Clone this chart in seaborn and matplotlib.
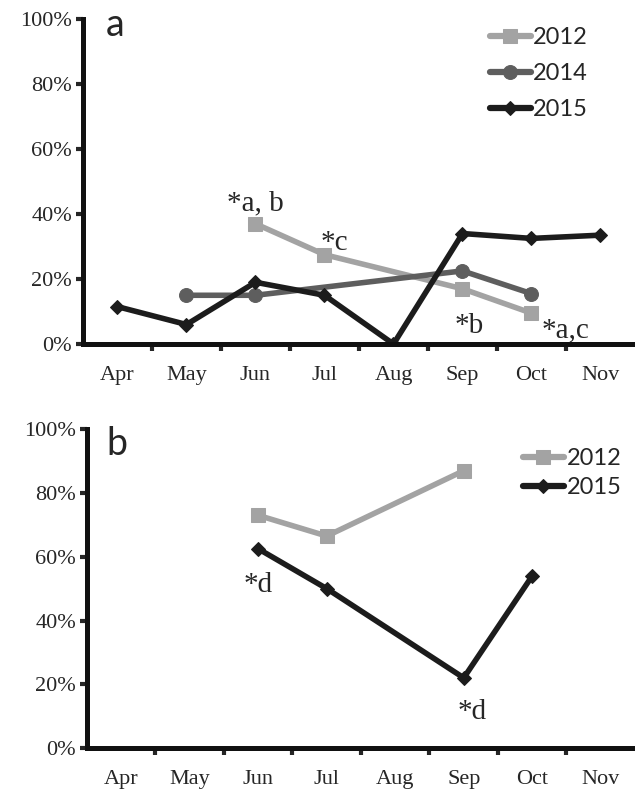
import matplotlib
matplotlib.use("Agg")
import matplotlib.pyplot as plt
import seaborn as sns
import pandas as pd

# months on the x axis
months = ['Apr', 'May', 'Jun', 'Jul', 'Aug', 'Sep', 'Oct', 'Nov']

# panel a values (%)
a_2012_months = ['Jun', 'Jul', 'Sep', 'Oct']
a_2012_vals = [37, 27.5, 17, 9.5]
a_2014_months = ['May', 'Jun', 'Sep', 'Oct']
a_2014_vals = [15, 15, 22.5, 15.5]
a_2015_months = ['Apr', 'May', 'Jun', 'Jul', 'Aug', 'Sep', 'Oct', 'Nov']
a_2015_vals = [11.5, 6, 19, 15, 0, 34, 32.5, 33.5]

# panel b values (%)
b_2012_months = ['Jun', 'Jul', 'Sep']
b_2012_vals = [73, 66.5, 87]
b_2015_months = ['Jun', 'Jul', 'Sep', 'Oct']
b_2015_vals = [62.5, 50, 22, 54]

# significance labels: (text, x, y of baseline)
a_notes = [('*a, b', 2.0, 41), ('*c', 3.15, 29), ('*b', 5.1, 3.4), ('*a,c', 6.5, 2.2)]
b_notes = [('*d', 2.0, 49), ('*d', 5.12, 9)]

colors = {'2012': '#a3a3a3', '2014': '#5e5e5e', '2015': '#1c1c1c'}
markers = {'2012': 's', '2014': 'o', '2015': 'D'}
msizes = {'2012': 10, '2014': 10, '2015': 7}


def make_df(series):
    rows = []
    for year, mlist, vals in series:
        for m, v in zip(mlist, vals):
            rows.append({'year': year, 'x': months.index(m), 'val': v})
    return pd.DataFrame(rows)


sns.set_style("ticks")
serif = ['Liberation Serif', 'DejaVu Serif']
sans = ['Lato', 'DejaVu Sans']

fig = plt.figure(figsize=(6.35, 7.96), dpi=100)
ax_a = fig.add_axes([0.1307, 0.5678, 0.8693, 0.4083])
ax_b = fig.add_axes([0.137, 0.0603, 0.863, 0.4004])

# (axes, letter, letter pos, data, notes, legend anchor, label spacing)
panels = [
    (ax_a, 'a', (0.042, 0.948),
     make_df([('2012', a_2012_months, a_2012_vals),
              ('2014', a_2014_months, a_2014_vals),
              ('2015', a_2015_months, a_2015_vals)]),
     a_notes, (0.915, 0.975), 0.63),
    (ax_b, 'b', (0.036, 0.918),
     make_df([('2012', b_2012_months, b_2012_vals),
              ('2015', b_2015_months, b_2015_vals)]),
     b_notes, (0.975, 0.94), 0.32),
]

for ax, letter, lpos, df, notes, anchor, lspace in panels:
    for year, sub in df.groupby('year'):
        sns.lineplot(data=sub, x='x', y='val', ax=ax, color=colors[year],
                     marker=markers[year], markersize=msizes[year],
                     markeredgecolor=colors[year], linewidth=4, label=year)
    ax.set_xlim(-0.5, 7.5)
    ax.set_ylim(0, 100)
    ax.set_xticks(range(len(months)))
    ax.set_xticklabels(months, fontfamily=serif, fontsize=16)
    ax.set_xticks([i + 0.5 for i in range(7)], minor=True)
    ax.tick_params(axis='x', which='major', length=0, pad=16)
    ax.tick_params(axis='x', which='minor', length=5, width=3, direction='out')
    ax.set_yticks([0, 20, 40, 60, 80, 100])
    ax.set_yticklabels(['%d%%' % v for v in [0, 20, 40, 60, 80, 100]],
                       fontfamily=serif, fontsize=16)
    ax.tick_params(axis='y', length=5, width=3, direction='out', pad=3)
    ax.set_xlabel('')
    ax.set_ylabel('')
    for s in ['left', 'bottom']:
        ax.spines[s].set_linewidth(3.6)
        ax.spines[s].set_color('#111111')
    sns.despine(ax=ax)
    ax.text(lpos[0], lpos[1], letter, transform=ax.transAxes, fontfamily=sans,
            fontsize=27, va='baseline', ha='left')
    for txt, x, y in notes:
        ax.text(x, y, txt, fontfamily=serif, fontsize=21, ha='center', va='baseline')
    leg = ax.legend(loc='upper right', bbox_to_anchor=anchor, frameon=False,
                    prop={'family': sans, 'size': 17}, handlelength=1.75,
                    handletextpad=0.1, labelspacing=lspace, borderaxespad=0,
                    borderpad=0)
    for h in leg.legend_handles:
        h.set_linewidth(4.5)

fig.savefig('out.png', dpi=100)
